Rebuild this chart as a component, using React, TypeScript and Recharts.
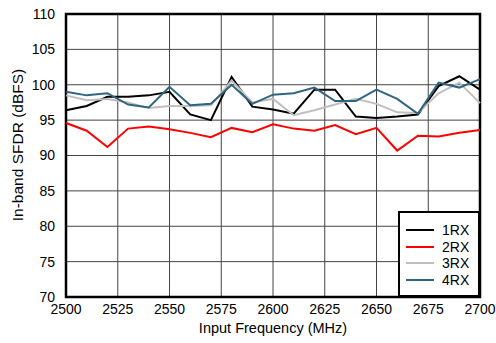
import React from 'react';
import { LineChart, Line, XAxis, YAxis, CartesianGrid, ReferenceArea, Legend, Label } from 'recharts';

const freqs = [2500, 2510, 2520, 2530, 2540, 2550, 2560, 2570, 2580, 2590, 2600, 2610, 2620, 2630, 2640, 2650, 2660, 2670, 2680, 2690, 2700];
const rx1 = [96.4, 97.0, 98.3, 98.3, 98.5, 99.0, 95.8, 95.0, 101.1, 96.9, 96.5, 95.9, 99.3, 99.3, 95.5, 95.3, 95.5, 95.8, 99.8, 101.2, 99.3];
const rx2 = [94.6, 93.5, 91.2, 93.8, 94.1, 93.7, 93.2, 92.6, 93.9, 93.3, 94.4, 93.8, 93.5, 94.3, 93.0, 93.9, 90.7, 92.8, 92.7, 93.2, 93.6];
const rx3 = [98.5, 97.8, 98.0, 97.5, 96.7, 97.0, 97.0, 97.1, 100.6, 97.5, 98.0, 95.7, 96.4, 97.2, 98.0, 97.3, 96.1, 96.0, 98.8, 100.3, 97.4];
const rx4 = [99.0, 98.5, 98.8, 97.2, 96.8, 99.7, 97.1, 97.3, 100.0, 97.3, 98.6, 98.8, 99.6, 97.7, 97.7, 99.3, 98.0, 95.9, 100.3, 99.6, 100.8];
const xTicks = [2500, 2525, 2550, 2575, 2600, 2625, 2650, 2675, 2700];
const yTicks = [70, 75, 80, 85, 90, 95, 100, 105, 110];
const seriesNames = ['1RX', '2RX', '3RX', '4RX'];
const seriesColors = ['#000000', '#ff0000', '#bfbfbf', '#2f6580'];

const data = freqs.map((f, i) => ({ f, rx1: rx1[i], rx2: rx2[i], rx3: rx3[i], rx4: rx4[i] }));
const keys = ['rx1', 'rx2', 'rx3', 'rx4'];

const FONT = '"Liberation Sans", Arial, sans-serif';

const LegendBox = () => (
  <div style={{ width: 82, height: 86, border: '2px solid #000', background: '#fff', boxSizing: 'border-box', position: 'relative', fontFamily: FONT, fontSize: 14 }}>
    {seriesNames.map((n, i) => (
      <div key={n} style={{ position: 'absolute', left: 0, top: 9 + i * 16.5, height: 16, width: '100%' }}>
        <div style={{ position: 'absolute', left: 6, top: 7, width: 28, height: 2, background: seriesColors[i] }} />
        <div style={{ position: 'absolute', left: 42, top: 0, lineHeight: '16px', color: '#000' }}>{n}</div>
      </div>
    ))}
  </div>
);

export default function App() {
  return (
    <div style={{ position: 'absolute', left: 0, top: 0, width: 496, height: 343, background: '#fff' }}>
      <LineChart width={496} height={343} data={data} margin={{ top: 14, right: 16, left: 6, bottom: 0 }}>
        <CartesianGrid stroke="#444" strokeWidth={1} />
        <XAxis
          dataKey="f"
          type="number"
          domain={[2500, 2700]}
          ticks={xTicks}
          tickLine={false}
          axisLine={false}
          height={46}
          tickMargin={1}
          tick={{ fill: '#000', fontSize: 14, fontFamily: FONT }}
          interval={0}
        >
          <Label
            content={() => (
              <text x={273} y={333} textAnchor="middle" fontSize={14.5} fontFamily={FONT} fill="#000">Input Frequency (MHz)</text>
            )}
          />
        </XAxis>
        <YAxis
          type="number"
          domain={[70, 110]}
          ticks={yTicks}
          tickLine={false}
          axisLine={false}
          width={60}
          tickMargin={5}
          tick={{ fill: '#000', fontSize: 14, fontFamily: FONT }}
          interval={0}
        >
          <Label
            content={() => (
              <text x={23} y={145} transform="rotate(-90 23 145)" textAnchor="middle" fontSize={15.5} fontFamily={FONT} fill="#000">In-band SFDR (dBFS)</text>
            )}
          />
        </YAxis>
        {keys.map((k, i) => (
          <Line key={k} dataKey={k} name={seriesNames[i]} stroke={seriesColors[i]} strokeWidth={2} dot={false} isAnimationActive={false} />
        ))}
        <ReferenceArea x1={2500} x2={2700} y1={70} y2={110} fill="none" stroke="#000" strokeWidth={2.5} ifOverflow="visible" />
        <Legend
          layout="vertical"
          align="center"
          verticalAlign="middle"
          content={() => <LegendBox />}
          wrapperStyle={{ position: 'absolute', left: 398, top: 211, width: 82, height: 86 }}
        />
      </LineChart>
    </div>
  );
}
